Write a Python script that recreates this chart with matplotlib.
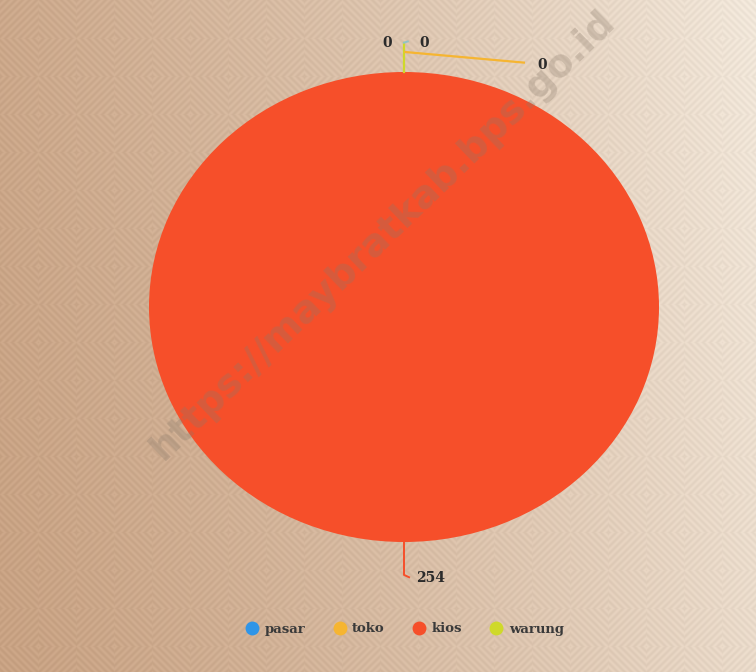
import numpy as np
import matplotlib
matplotlib.use('Agg')
import matplotlib.pyplot as plt
from matplotlib.colors import to_rgb
from matplotlib.lines import Line2D

# ------------------------------------------------------------------
# Data
# ------------------------------------------------------------------
categories = ['pasar', 'toko', 'kios', 'warung']
values = [0, 0, 254, 0]
colors = ['#2f95e8', '#f6b531', '#f64f2a', '#cfd92a']

W, H = 756, 672
fig = plt.figure(figsize=(W / 100, H / 100), dpi=100)

# ------------------------------------------------------------------
# Background: tan gradient with a faint diamond texture
# ------------------------------------------------------------------
bg = fig.add_axes([0, 0, 1, 1])
yy, xx = np.mgrid[0:H, 0:W].astype(float)
t = np.clip((xx / W) * 0.85 + (1 - yy / H) * 0.15, 0, 1) ** 1.3
left = np.array(to_rgb('#c8a283'))
right = np.array(to_rgb('#f1e7da'))
img = left[None, None, :] * (1 - t[..., None]) + right[None, None, :] * t[..., None]
P = 76.0
u = (xx % P) - P / 2
v = (yy % P) - P / 2
d = np.abs(u) + np.abs(v)
tex = np.sin(2 * np.pi * d / 7.0)
img = np.clip(img + 0.02 * tex[..., None], 0, 1)
bg.imshow(img, aspect='auto', extent=[0, 1, 0, 1], origin='upper')
bg.set_xlim(0, 1)
bg.set_ylim(0, 1)
bg.axis('off')

# ------------------------------------------------------------------
# Pie
# ------------------------------------------------------------------
ax = fig.add_axes([149 / W, 1 - 542 / H, 510 / W, 470 / H])
ax.patch.set_alpha(0)
ax.pie(values, colors=colors, startangle=90, counterclock=False,
       radius=1.0, wedgeprops={'linewidth': 0})
ax.set_aspect('auto')
ax.set_xlim(-1, 1)
ax.set_ylim(-1, 1)
ax.axis('off')

lbl = dict(fontsize=10, fontweight='bold', color='#2b2b2b',
           family='DejaVu Serif', ha='center', va='center')

# zero-valued slices stacked at the top
ax.plot([0, 0], [1.0, 1.125], color=colors[3], lw=1.6, clip_on=False)
ax.plot([0.005, 0.47], [1.085, 1.04], color=colors[1], lw=1.6, clip_on=False)
ax.plot([0.0, 0.015], [1.125, 1.13], color='#8fc3c8', lw=1.4, clip_on=False)
ax.text(-0.067, 1.123, str(values[0]), **lbl)
ax.text(0.078, 1.123, str(values[1]), **lbl)
ax.text(0.541, 1.03, str(values[3]), **lbl)

# kios label at the bottom
ax.plot([0, 0, 0.02], [-1.0, -1.14, -1.15], color=colors[2], lw=1.4, clip_on=False)
ax.text(0.105, -1.153, str(values[2]), **lbl)

# ------------------------------------------------------------------
# Legend
# ------------------------------------------------------------------
handles = [Line2D([0], [0], marker='o', linestyle='', markersize=10,
                  markerfacecolor=c, markeredgecolor='none') for c in colors]
leg = fig.legend(handles, categories, loc='center', bbox_to_anchor=(404 / W, 1 - 629 / H),
                 ncol=4, frameon=False, handletextpad=0.35, columnspacing=2.0,
                 handlelength=1.2,
                 prop={'family': 'DejaVu Serif', 'weight': 'bold', 'size': 9.5})
for txt in leg.get_texts():
    txt.set_color('#3a3a3a')

# ------------------------------------------------------------------
# Watermark
# ------------------------------------------------------------------
fig.text(383 / W, 1 - 235 / H, 'https://maybratkab.bps.go.id', rotation=44,
         ha='center', va='center', fontsize=27.5, fontweight='bold',
         color='#8a7a6a', alpha=0.3, family='DejaVu Sans')

fig.savefig('out.png', dpi=100)
